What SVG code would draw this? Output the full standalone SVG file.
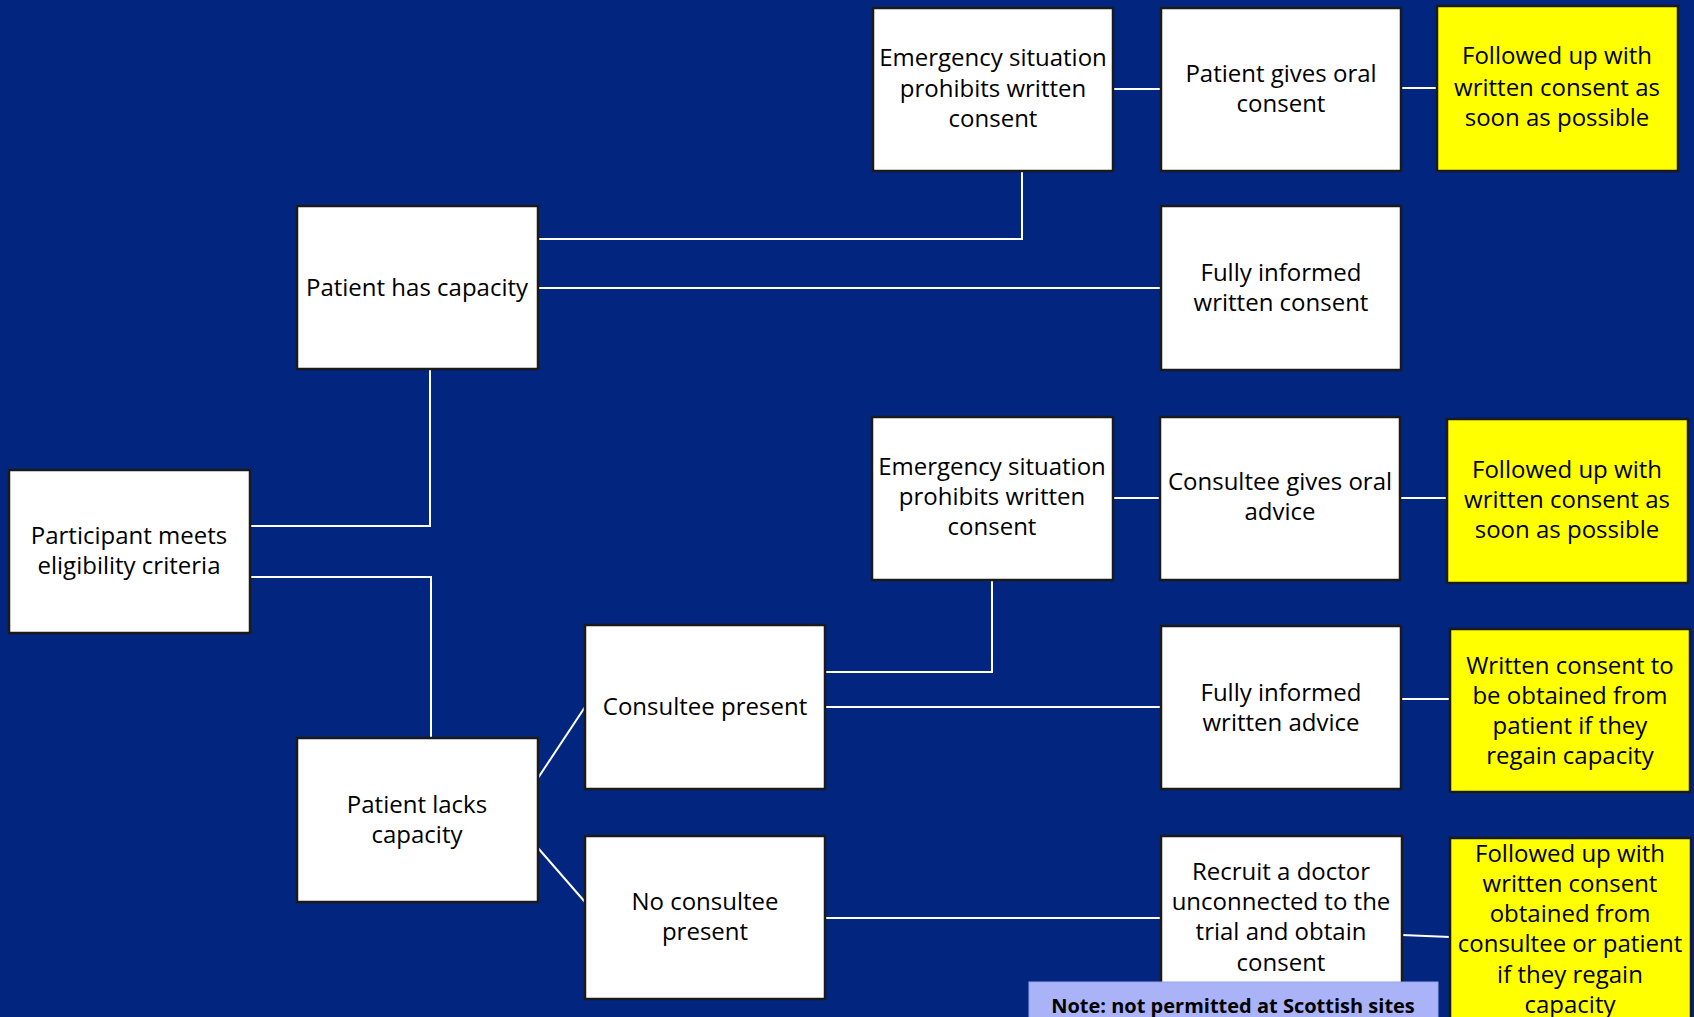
<svg xmlns="http://www.w3.org/2000/svg" width="1694" height="1017" viewBox="0 0 1694 1017">
<style>
.box{fill:#fff;stroke:#1a1a1a;stroke-width:2.5}
.yel{fill:#ffff00;stroke:#1a1a1a;stroke-width:2.5}
.note{fill:#aab3f7;stroke:#9aa4e8;stroke-width:1}
.t{font-family:"Open Sans","Noto Sans","Liberation Sans",sans-serif;font-size:24px;fill:#000;text-anchor:middle}
.nt{font-family:"Open Sans","Noto Sans","Liberation Sans",sans-serif;font-size:20px;font-weight:bold;fill:#000;text-anchor:middle}
.c{fill:none;stroke:#fff;stroke-width:2}
</style>
<rect width="1694" height="1017" fill="#022680"/>
<g id="connectors">
<path class="c" d="M1022,171 V239 H538"/>
<path class="c" d="M538,288 H1161"/>
<path class="c" d="M1113,89 H1161"/>
<path class="c" d="M1401,88 H1437"/>
<path class="c" d="M250,526 H430 V369"/>
<path class="c" d="M250,577 H431 V738"/>
<path class="c" d="M538,778 L585,707"/>
<path class="c" d="M538,848 L585,902"/>
<path class="c" d="M825,672 H992 V580"/>
<path class="c" d="M825,707 H1161"/>
<path class="c" d="M1113,498 H1160"/>
<path class="c" d="M1400,498 H1447"/>
<path class="c" d="M1401,699 H1450"/>
<path class="c" d="M825,918 H1161"/>
<path class="c" d="M1402,935 L1450,937"/>
</g>
<g id="n_emergency1">
<rect class="box" x="873" y="8" width="240" height="163"/>
<text class="t" x="993" y="66">Emergency situation</text>
<text class="t" x="993" y="97">prohibits written</text>
<text class="t" x="993" y="127">consent</text>
</g>
<g id="n_oral_consent">
<rect class="box" x="1161" y="8" width="240" height="163"/>
<text class="t" x="1281" y="82">Patient gives oral</text>
<text class="t" x="1281" y="112">consent</text>
</g>
<g id="n_followup1">
<rect class="yel" x="1437" y="6" width="241" height="165"/>
<text class="t" x="1557" y="64">Followed up with</text>
<text class="t" x="1557" y="96">written consent as</text>
<text class="t" x="1557" y="126">soon as possible</text>
</g>
<g id="n_has_capacity">
<rect class="box" x="297" y="206" width="241" height="163"/>
<text class="t" x="417" y="296">Patient has capacity</text>
</g>
<g id="n_written_consent">
<rect class="box" x="1161" y="206" width="240" height="164"/>
<text class="t" x="1281" y="281">Fully informed</text>
<text class="t" x="1281" y="311">written consent</text>
</g>
<g id="n_eligibility">
<rect class="box" x="9" y="470" width="241" height="163"/>
<text class="t" x="129" y="544">Participant meets</text>
<text class="t" x="129" y="574">eligibility criteria</text>
</g>
<g id="n_emergency2">
<rect class="box" x="872" y="417" width="241" height="163"/>
<text class="t" x="992" y="475">Emergency situation</text>
<text class="t" x="992" y="505">prohibits written</text>
<text class="t" x="992" y="535">consent</text>
</g>
<g id="n_oral_advice">
<rect class="box" x="1160" y="417" width="240" height="163"/>
<text class="t" x="1280" y="490">Consultee gives oral</text>
<text class="t" x="1280" y="520">advice</text>
</g>
<g id="n_followup2">
<rect class="yel" x="1447" y="419" width="241" height="164"/>
<text class="t" x="1567" y="478">Followed up with</text>
<text class="t" x="1567" y="508">written consent as</text>
<text class="t" x="1567" y="538">soon as possible</text>
</g>
<g id="n_consultee_present">
<rect class="box" x="585" y="625" width="240" height="164"/>
<text class="t" x="705" y="715">Consultee present</text>
</g>
<g id="n_written_advice">
<rect class="box" x="1161" y="626" width="240" height="163"/>
<text class="t" x="1281" y="701">Fully informed</text>
<text class="t" x="1281" y="731">written advice</text>
</g>
<g id="n_regain1">
<rect class="yel" x="1450" y="629" width="240" height="163"/>
<text class="t" x="1570" y="674">Written consent to</text>
<text class="t" x="1570" y="704">be obtained from</text>
<text class="t" x="1570" y="734">patient if they</text>
<text class="t" x="1570" y="764">regain capacity</text>
</g>
<g id="n_lacks_capacity">
<rect class="box" x="297" y="738" width="241" height="164"/>
<text class="t" x="417" y="813">Patient lacks</text>
<text class="t" x="417" y="843">capacity</text>
</g>
<g id="n_no_consultee">
<rect class="box" x="585" y="836" width="240" height="163"/>
<text class="t" x="705" y="910">No consultee</text>
<text class="t" x="705" y="940">present</text>
</g>
<g id="n_recruit_doctor">
<rect class="box" x="1161" y="836" width="241" height="200"/>
<text class="t" x="1281" y="880">Recruit a doctor</text>
<text class="t" x="1281" y="910">unconnected to the</text>
<text class="t" x="1281" y="940">trial and obtain</text>
<text class="t" x="1281" y="971">consent</text>
</g>
<g id="n_followup3">
<rect class="yel" x="1450" y="838" width="241" height="200"/>
<text class="t" x="1570" y="862">Followed up with</text>
<text class="t" x="1570" y="892">written consent</text>
<text class="t" x="1570" y="922">obtained from</text>
<text class="t" x="1570" y="952">consultee or patient</text>
<text class="t" x="1570" y="983">if they regain</text>
<text class="t" x="1570" y="1013">capacity</text>
</g>
<g id="n_note">
<rect class="note" x="1029" y="982" width="409" height="50"/>
<text class="nt" x="1233" y="1013">Note: not permitted at Scottish sites</text>
</g>
</svg>
